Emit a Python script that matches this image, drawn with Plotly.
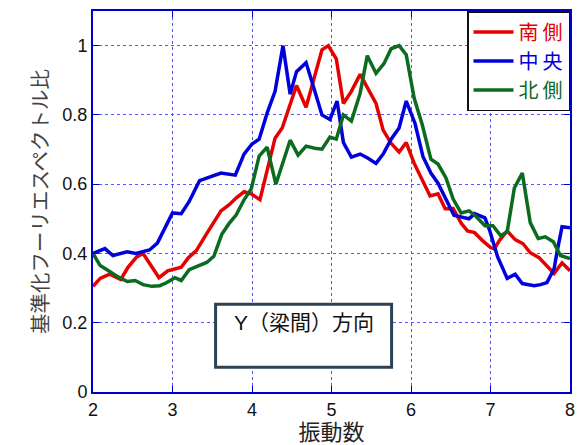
import plotly.graph_objects as go

# Normalized Fourier spectrum ratio vs frequency (Hz)
freq_south = [2.0, 2.09, 2.21, 2.35, 2.44, 2.55, 2.63, 2.73, 2.83, 2.94, 3.11, 3.2, 3.3, 3.43, 3.53,
              3.61, 3.71, 3.8, 3.9, 3.99, 4.1, 4.2, 4.29, 4.38, 4.48, 4.56, 4.68, 4.78, 4.88, 4.96,
              5.06, 5.15, 5.25, 5.36, 5.46, 5.56, 5.65, 5.75, 5.85, 5.94, 6.04, 6.14, 6.24, 6.34,
              6.43, 6.53, 6.63, 6.71, 6.8, 6.9, 7.0, 7.05, 7.11, 7.21, 7.31, 7.41, 7.5, 7.61, 7.71,
              7.8, 7.9, 8.0]
ratio_south = [0.305, 0.328, 0.34, 0.325, 0.36, 0.39, 0.40, 0.365, 0.33, 0.35, 0.36, 0.388, 0.408,
               0.457, 0.494, 0.523, 0.54, 0.56, 0.578, 0.572, 0.555, 0.652, 0.733, 0.762, 0.833,
               0.885, 0.822, 0.905, 0.988, 1.0, 0.962, 0.833, 0.868, 0.917, 0.874, 0.833, 0.756,
               0.718, 0.693, 0.72, 0.66, 0.615, 0.566, 0.572, 0.529, 0.53, 0.488, 0.465, 0.46,
               0.437, 0.417, 0.413, 0.437, 0.465, 0.44, 0.428, 0.402, 0.388, 0.365, 0.342, 0.373,
               0.35]

freq_center = [2.0, 2.15, 2.25, 2.43, 2.54, 2.71, 2.81, 3.0, 3.11, 3.21, 3.34, 3.46, 3.61, 3.79,
               3.9, 4.0, 4.09, 4.19, 4.29, 4.39, 4.48, 4.56, 4.68, 4.78, 4.88, 4.98, 5.07, 5.15,
               5.25, 5.36, 5.46, 5.56, 5.65, 5.75, 5.85, 5.94, 6.05, 6.15, 6.25, 6.34, 6.44, 6.54,
               6.73, 6.8, 6.93, 6.99, 7.09, 7.21, 7.31, 7.4, 7.55, 7.63, 7.71, 7.8, 7.84, 7.9, 8.0]
ratio_center = [0.40, 0.414, 0.394, 0.405, 0.40, 0.41, 0.43, 0.517, 0.515, 0.55, 0.61, 0.62, 0.632,
                0.626, 0.687, 0.716, 0.73, 0.805, 0.868, 1.0, 0.86, 0.925, 0.951, 0.876, 0.80,
                0.787, 0.84, 0.72, 0.678, 0.687, 0.675, 0.66, 0.687, 0.73, 0.762, 0.84, 0.776,
                0.68, 0.632, 0.603, 0.557, 0.51, 0.50, 0.515, 0.503, 0.466, 0.39, 0.328, 0.34,
                0.313, 0.307, 0.31, 0.316, 0.356, 0.408, 0.477, 0.474]

freq_north = [2.0, 2.09, 2.21, 2.31, 2.43, 2.53, 2.63, 2.74, 2.84, 2.93, 3.03, 3.11, 3.21, 3.31,
              3.43, 3.52, 3.62, 3.71, 3.8, 3.9, 3.99, 4.09, 4.19, 4.3, 4.38, 4.48, 4.58, 4.68,
              4.79, 4.88, 4.98, 5.06, 5.15, 5.25, 5.36, 5.45, 5.56, 5.66, 5.75, 5.85, 5.94, 6.04,
              6.14, 6.25, 6.34, 6.44, 6.53, 6.63, 6.73, 6.81, 6.93, 7.03, 7.13, 7.21, 7.3, 7.4,
              7.5, 7.6, 7.69, 7.79, 7.88, 8.0]
ratio_north = [0.40, 0.365, 0.348, 0.333, 0.319, 0.322, 0.31, 0.305, 0.307, 0.316, 0.33, 0.322,
               0.353, 0.362, 0.374, 0.392, 0.455, 0.486, 0.511, 0.555, 0.586, 0.681, 0.707, 0.60,
               0.66, 0.727, 0.684, 0.71, 0.704, 0.701, 0.736, 0.73, 0.80, 0.782, 0.862, 0.971,
               0.92, 0.948, 0.991, 1.0, 0.974, 0.848, 0.773, 0.672, 0.658, 0.618, 0.557, 0.517,
               0.523, 0.509, 0.48, 0.48, 0.451, 0.463, 0.589, 0.632, 0.489, 0.443, 0.448, 0.434,
               0.394, 0.385]

series_names = ["南側", "中央", "北側"]
series_colors = ["#e60000", "#0000dd", "#0b6b1f"]
x_ticks = [2, 3, 4, 5, 6, 7, 8]
y_ticks = [0, 0.2, 0.4, 0.6, 0.8, 1]

FONT = "Liberation Sans, Noto Sans CJK JP, sans-serif"
AXIS_BLUE = "#0000cc"

fig = go.Figure()
for name, color, xs, ys in zip(series_names, series_colors,
                               [freq_south, freq_center, freq_north],
                               [ratio_south, ratio_center, ratio_north]):
    fig.add_trace(go.Scatter(
        x=xs, y=ys, mode="lines",
        # legend label coloured like its line, with a little gap between characters
        name=f'<span style="color:{color}">{"\u2009".join(name)}</span>',
        line=dict(color=color, width=3.5),
    ))

axis_common = dict(
    showline=True, linecolor=AXIS_BLUE, linewidth=2, mirror="ticks",
    ticks="inside", ticklen=6, tickcolor=AXIS_BLUE, tickwidth=1,
    showgrid=True, gridcolor="#5555ff", griddash="dot", gridwidth=1,
    zeroline=False, tickfont=dict(size=18, color="#111", family=FONT),
)

fig.update_xaxes(
    range=[2, 8], tickvals=x_ticks, ticktext=[str(t) for t in x_ticks],
    title=dict(text="振動数", font=dict(size=22, color="#222", family=FONT), standoff=0),
    **axis_common,
)
fig.update_yaxes(
    range=[0, 1.1], tickvals=y_ticks, ticktext=["0", "0.2", "0.4", "0.6", "0.8", "1"],
    title=dict(text="基準化フーリエスペクトル比", font=dict(size=20.5, color="#444", family=FONT), standoff=8),
    **axis_common,
)

# Label box for the direction
fig.add_shape(type="rect", xref="paper", yref="paper",
              x0=0.257, x1=0.626, y0=0.065, y1=0.23,
              line=dict(color="#2c4257", width=3), fillcolor="white", layer="above")
fig.add_annotation(xref="paper", yref="paper", x=0.4415, y=0.1475,
                   text="Y（梁間）方向", showarrow=False,
                   font=dict(size=21, color="#111", family=FONT))

fig.update_layout(
    width=584, height=445,
    margin=dict(l=93, r=12, t=9, b=53),
    plot_bgcolor="white", paper_bgcolor="white",
    font=dict(family=FONT),
    showlegend=True,
    legend=dict(
        x=1, y=1, xanchor="right", yanchor="top",
        bgcolor="white", bordercolor="#111", borderwidth=1.5,
        font=dict(size=20, family=FONT),
        tracegroupgap=0, itemwidth=40,
    ),
)

fig.write_html("out.html")
